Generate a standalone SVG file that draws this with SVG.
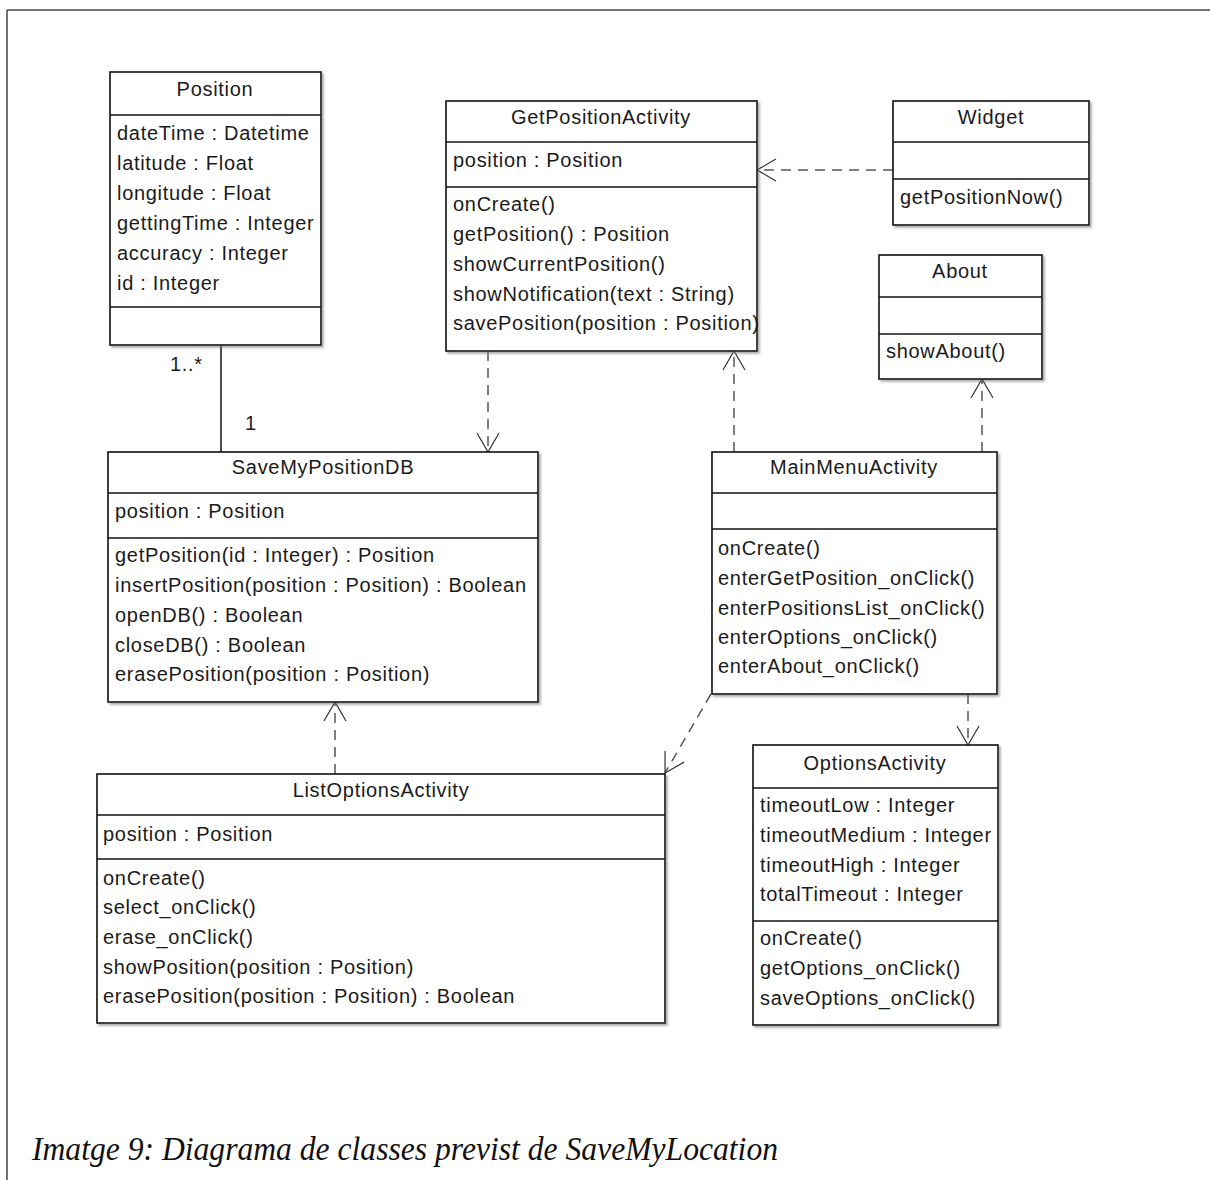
<svg xmlns="http://www.w3.org/2000/svg" width="1210" height="1180" viewBox="0 0 1210 1180">
  <defs>
    <filter id="shadow" x="-5%" y="-5%" width="115%" height="115%">
      <feDropShadow dx="2" dy="2" stdDeviation="1" flood-color="#777" flood-opacity="0.6"/>
    </filter>
    <marker id="open" viewBox="-22 -13 24 26" refX="0" refY="0" markerWidth="24" markerHeight="26" markerUnits="userSpaceOnUse" orient="auto">
      <path d="M-19,-11 L0,0 L-19,11" fill="none" stroke="#333" stroke-width="1.2"/>
    </marker>
    <style>
      .box { fill: #fff; stroke: #111; stroke-width: 1.6; filter: url(#shadow); }
      .div { stroke: #111; stroke-width: 1.6; }
      .t { font-family: "Liberation Sans", Arial, sans-serif; font-size: 20px; letter-spacing: 0.7px; fill: #1a1a1a; }
      .title { text-anchor: middle; }
      .dep { fill: none; stroke: #555; stroke-width: 1.5; stroke-dasharray: 10 7; marker-end: url(#open); }
      .assoc { fill: none; stroke: #111; stroke-width: 1.5; }
      .frame { stroke: #444; stroke-width: 1.5; }
      .caption { font-family: "Liberation Serif", "Times New Roman", serif; font-style: italic; font-size: 34px; fill: #111; }
    </style>
  </defs>

  <rect width="1210" height="1180" fill="#fff"/>

  <!-- frame -->
  <line class="frame" x1="7" y1="10" x2="1210" y2="10"/>
  <line class="frame" x1="7" y1="10" x2="7" y2="1180"/>

  <!-- connectors -->
  <g id="connectors">
    <line class="assoc" x1="221" y1="345" x2="221" y2="452"/>
    <text class="t" x="170" y="371">1..*</text>
    <text class="t" x="245" y="430">1</text>
    <path class="dep" d="M893,170 H757"/>
    <path class="dep" d="M488,351 V452"/>
    <path class="dep" d="M734,452 V351"/>
    <path class="dep" d="M982,452 V379"/>
    <path class="dep" d="M968,694 V745"/>
    <path class="dep" d="M711,694 L665,773"/>
    <path class="dep" d="M335,774 V702"/>
  </g>

  <!-- Position -->
  <g id="Position">
    <rect class="box" x="110" y="72" width="211" height="273"/>
    <line class="div" x1="110" y1="115" x2="321" y2="115"/>
    <line class="div" x1="110" y1="307" x2="321" y2="307"/>
    <text class="t title" x="215" y="96">Position</text>
    <text class="t" x="117" y="140">dateTime : Datetime</text>
    <text class="t" x="117" y="170">latitude : Float</text>
    <text class="t" x="117" y="200">longitude : Float</text>
    <text class="t" x="117" y="230">gettingTime : Integer</text>
    <text class="t" x="117" y="260">accuracy : Integer</text>
    <text class="t" x="117" y="290">id : Integer</text>
  </g>

  <!-- GetPositionActivity -->
  <g id="GetPositionActivity">
    <rect class="box" x="446" y="101" width="311" height="250"/>
    <line class="div" x1="446" y1="142" x2="757" y2="142"/>
    <line class="div" x1="446" y1="187" x2="757" y2="187"/>
    <text class="t title" x="601" y="124">GetPositionActivity</text>
    <text class="t" x="453" y="167">position : Position</text>
    <text class="t" x="453" y="211">onCreate()</text>
    <text class="t" x="453" y="241">getPosition() : Position</text>
    <text class="t" x="453" y="271">showCurrentPosition()</text>
    <text class="t" x="453" y="301">showNotification(text : String)</text>
    <text class="t" x="453" y="330">savePosition(position : Position)</text>
  </g>

  <!-- Widget -->
  <g id="Widget">
    <rect class="box" x="893" y="101" width="196" height="124"/>
    <line class="div" x1="893" y1="142" x2="1089" y2="142"/>
    <line class="div" x1="893" y1="179" x2="1089" y2="179"/>
    <text class="t title" x="991" y="124">Widget</text>
    <text class="t" x="900" y="204">getPositionNow()</text>
  </g>

  <!-- About -->
  <g id="About">
    <rect class="box" x="879" y="255" width="163" height="124"/>
    <line class="div" x1="879" y1="297" x2="1042" y2="297"/>
    <line class="div" x1="879" y1="334" x2="1042" y2="334"/>
    <text class="t title" x="960" y="278">About</text>
    <text class="t" x="886" y="358">showAbout()</text>
  </g>

  <!-- SaveMyPositionDB -->
  <g id="SaveMyPositionDB">
    <rect class="box" x="108" y="452" width="430" height="250"/>
    <line class="div" x1="108" y1="493" x2="538" y2="493"/>
    <line class="div" x1="108" y1="538" x2="538" y2="538"/>
    <text class="t title" x="323" y="474">SaveMyPositionDB</text>
    <text class="t" x="115" y="518">position : Position</text>
    <text class="t" x="115" y="562">getPosition(id : Integer) : Position</text>
    <text class="t" x="115" y="592">insertPosition(position : Position) : Boolean</text>
    <text class="t" x="115" y="622">openDB() : Boolean</text>
    <text class="t" x="115" y="652">closeDB() : Boolean</text>
    <text class="t" x="115" y="681">erasePosition(position : Position)</text>
  </g>

  <!-- MainMenuActivity -->
  <g id="MainMenuActivity">
    <rect class="box" x="712" y="452" width="285" height="242"/>
    <line class="div" x1="712" y1="493" x2="997" y2="493"/>
    <line class="div" x1="712" y1="529" x2="997" y2="529"/>
    <text class="t title" x="854" y="474">MainMenuActivity</text>
    <text class="t" x="718" y="555">onCreate()</text>
    <text class="t" x="718" y="585">enterGetPosition_onClick()</text>
    <text class="t" x="718" y="615">enterPositionsList_onClick()</text>
    <text class="t" x="718" y="644">enterOptions_onClick()</text>
    <text class="t" x="718" y="673">enterAbout_onClick()</text>
  </g>

  <!-- ListOptionsActivity -->
  <g id="ListOptionsActivity">
    <rect class="box" x="97" y="774" width="568" height="249"/>
    <line class="div" x1="97" y1="815" x2="665" y2="815"/>
    <line class="div" x1="97" y1="859" x2="665" y2="859"/>
    <text class="t title" x="381" y="797">ListOptionsActivity</text>
    <text class="t" x="103" y="841">position : Position</text>
    <text class="t" x="103" y="885">onCreate()</text>
    <text class="t" x="103" y="914">select_onClick()</text>
    <text class="t" x="103" y="944">erase_onClick()</text>
    <text class="t" x="103" y="974">showPosition(position : Position)</text>
    <text class="t" x="103" y="1003">erasePosition(position : Position) : Boolean</text>
  </g>

  <!-- OptionsActivity -->
  <g id="OptionsActivity">
    <rect class="box" x="753" y="745" width="245" height="280"/>
    <line class="div" x1="753" y1="788" x2="998" y2="788"/>
    <line class="div" x1="753" y1="921" x2="998" y2="921"/>
    <text class="t title" x="875" y="770">OptionsActivity</text>
    <text class="t" x="760" y="812">timeoutLow : Integer</text>
    <text class="t" x="760" y="842">timeoutMedium : Integer</text>
    <text class="t" x="760" y="872">timeoutHigh : Integer</text>
    <text class="t" x="760" y="901">totalTimeout : Integer</text>
    <text class="t" x="760" y="945">onCreate()</text>
    <text class="t" x="760" y="975">getOptions_onClick()</text>
    <text class="t" x="760" y="1005">saveOptions_onClick()</text>
  </g>

  <!-- caption -->
  <text class="caption" x="32" y="1160" textLength="746" lengthAdjust="spacingAndGlyphs">Imatge 9: Diagrama de classes previst de SaveMyLocation</text>
</svg>
